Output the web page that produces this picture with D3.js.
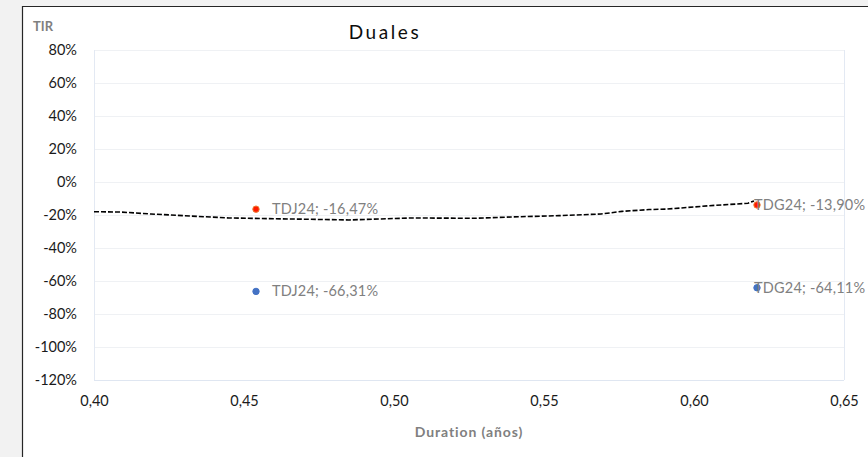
<!DOCTYPE html>
<html>
<head>
<meta charset="utf-8">
<script src="https://cdn.jsdelivr.net/npm/d3@7"></script>
<style>
  html, body { margin: 0; padding: 0; background: #f2f2f2; }
  svg { display: block; font-family: Lato, 'Liberation Sans', sans-serif; }
</style>
</head>
<body>
<div id="chart"></div>
<script>
// bonds: duration (years) and TIR (%)
const bonds = ['TDJ24', 'TDG24'];
const duration = [0.454, 0.621];
const tirA = [-16.47, -13.90]; // red/orange series
const tirB = [-66.31, -64.11]; // blue series

// dashed trend curve
const trendX = [0.400, 0.409, 0.419, 0.432, 0.445, 0.465, 0.485, 0.506, 0.527, 0.539,
  0.555, 0.569, 0.576, 0.585, 0.591, 0.605, 0.618, 0.620];
const trendY = [-18.0, -18.2, -19.4, -20.6, -21.8, -22.4, -23.0, -21.8, -22.0, -21.2,
  -20.4, -19.4, -17.8, -16.7, -16.4, -14.4, -12.9, -11.5];

const xTicks = [0.40, 0.45, 0.50, 0.55, 0.60, 0.65];
const yTicks = [80, 60, 40, 20, 0, -20, -40, -60, -80, -100, -120];

const W = 868, H = 457;
const plot = { left: 94, right: 844, top: 50, bottom: 380 };

const svg = d3.select('#chart').append('svg').attr('width', W).attr('height', H);

// chart area (white box with dark top/left edge, clipped by the window)
svg.append('rect').attr('x', 22).attr('y', 6).attr('width', W).attr('height', H)
  .attr('fill', '#ffffff');
svg.append('line').attr('x1', 22).attr('x2', W).attr('y1', 6.5).attr('y2', 6.5)
  .attr('stroke', '#262626').attr('stroke-width', 1.2);
svg.append('line').attr('x1', 22.5).attr('x2', 22.5).attr('y1', 6).attr('y2', H)
  .attr('stroke', '#262626').attr('stroke-width', 1.2);

const x = d3.scaleLinear().domain([0.40, 0.65]).range([plot.left, plot.right]);
const y = d3.scaleLinear().domain([-120, 80]).range([plot.bottom, plot.top]);

const comma = (s) => s.replace('.', ',').replace('\u2212', '-');
const fmtX = (d) => comma(d3.format('.2f')(d));
const fmtY = (d) => `${d}%`;
const fmtPct = (d) => `${comma(d3.format('.2f')(d))}%`;

// horizontal gridlines
svg.append('g').attr('class', 'grid')
  .selectAll('line')
  .data(yTicks)
  .enter()
  .append('line')
  .attr('x1', plot.left)
  .attr('x2', plot.right)
  .attr('y1', (d) => Math.round(y(d)) + 0.5)
  .attr('y2', (d) => Math.round(y(d)) + 0.5)
  .attr('stroke', (d) => (d === -120 ? '#dfe6f1' : '#eff1f4'))
  .attr('stroke-width', 1);

// plot frame left / right
svg.append('line').attr('x1', plot.left + 0.5).attr('x2', plot.left + 0.5)
  .attr('y1', plot.top).attr('y2', plot.bottom).attr('stroke', '#e3e9f3');
svg.append('line').attr('x1', plot.right + 0.5).attr('x2', plot.right + 0.5)
  .attr('y1', plot.top).attr('y2', plot.bottom).attr('stroke', '#e3e9f3');

// y axis labels
const yAxis = svg.append('g')
  .attr('transform', `translate(${plot.left - 17},0)`)
  .call(d3.axisLeft(y).tickValues(yTicks).tickFormat(fmtY).tickSize(0).tickPadding(0));
yAxis.select('.domain').remove();
yAxis.selectAll('text').attr('font-size', 14.5).attr('fill', '#1a1a1a')
  .attr('font-family', 'Lato, sans-serif');

// x axis labels
const xAxis = svg.append('g')
  .attr('transform', `translate(0,${plot.bottom + 16})`)
  .call(d3.axisBottom(x).tickValues(xTicks).tickFormat(fmtX).tickSize(0).tickPadding(0));
xAxis.select('.domain').remove();
xAxis.selectAll('text').attr('font-size', 14.5).attr('fill', '#1a1a1a')
  .attr('font-family', 'Lato, sans-serif');

// titles
svg.append('text').attr('x', 385).attr('y', 39).attr('text-anchor', 'middle')
  .attr('font-size', 19).attr('letter-spacing', 2.6).attr('fill', '#0d0d0d').text('Duales');
svg.append('text').attr('x', 33).attr('y', 31).attr('font-size', 13).attr('font-weight', 'bold')
  .attr('fill', '#808080').text('TIR');
svg.append('text').attr('x', (plot.left + plot.right) / 2).attr('y', 437).attr('text-anchor', 'middle')
  .attr('font-size', 14).attr('letter-spacing', 0.9).attr('font-weight', 'bold')
  .attr('fill', '#808080').text('Duration (años)');

// trend line
const trend = trendX.map((d, i) => ({ x: d, y: trendY[i] }));
svg.append('path')
  .datum(trend)
  .attr('d', d3.line().x((d) => x(d.x)).y((d) => y(d.y)))
  .attr('fill', 'none')
  .attr('stroke', '#000')
  .attr('stroke-width', 1.6)
  .attr('stroke-dasharray', '5,2');

// points and labels
const series = [
  { values: tirA, fill: '#ff1a00', stroke: '#ed7d31' },
  { values: tirB, fill: '#4472c4', stroke: '#4472c4' },
];
const labelDx = [16, -3];

series.forEach((s) => {
  const pts = bonds.map((b, i) => ({ name: b, x: duration[i], y: s.values[i], i }));
  const g = svg.append('g');
  g.selectAll('circle')
    .data(pts)
    .enter()
    .append('circle')
    .attr('cx', (d) => x(d.x))
    .attr('cy', (d) => y(d.y))
    .attr('r', 3.2)
    .attr('fill', s.fill)
    .attr('stroke', s.stroke)
    .attr('stroke-width', 1);
  g.selectAll('text')
    .data(pts)
    .enter()
    .append('text')
    .attr('x', (d) => x(d.x) + labelDx[d.i])
    .attr('y', (d) => y(d.y) + 5)
    .attr('font-size', 14.5)
    .attr('letter-spacing', 0.2)
    .attr('fill', '#808080')
    .text((d) => `${d.name}; ${fmtPct(d.y)}`);
});
</script>
</body>
</html>
